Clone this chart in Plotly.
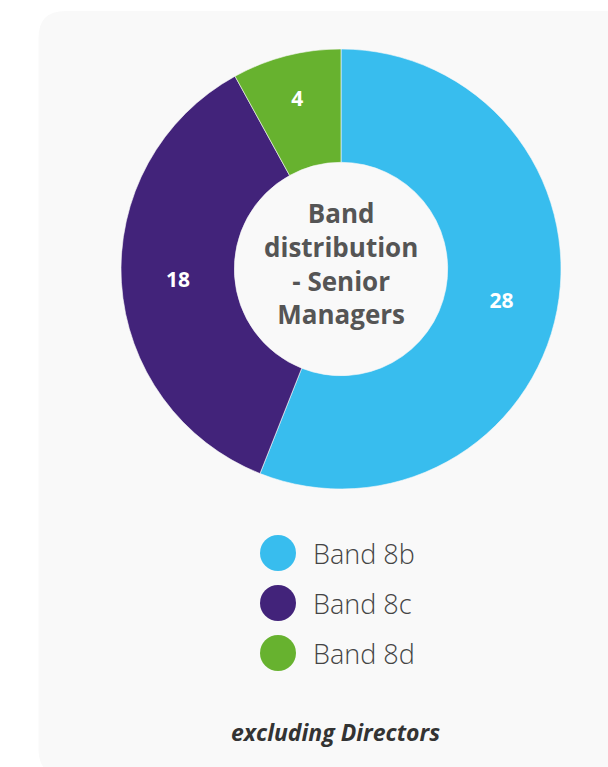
import plotly.graph_objects as go

# Band distribution of senior managers (excluding Directors)
bands = ["Band 8b", "Band 8c", "Band 8d"]
counts = [28, 18, 4]
colors = ["#38bdee", "#42237a", "#67b22f"]
center_title = "Band<br>distribution<br>- Senior<br>Managers"
footnote = "excluding Directors"

W, H = 608, 767


def px_x(x):
    return x / W


def px_y(y):
    return 1 - y / H


fig = go.Figure()

fig.add_trace(go.Pie(
    labels=bands,
    values=counts,
    hole=0.485,
    sort=False,
    direction="clockwise",
    rotation=0,
    marker=dict(colors=colors, line=dict(color="#f9f9f9", width=0.6)),
    textinfo="value",
    textposition="inside",
    insidetextorientation="horizontal",
    textfont=dict(family="Open Sans", size=21, color="#ffffff", weight="bold"),
    hoverinfo="label+value",
    showlegend=False,
    domain=dict(x=[px_x(121), px_x(561)], y=[px_y(489), px_y(49)]),
))

# rounded card behind the chart
left, top, right, bottom, r = 38.5, 11, 650, 776, 27
card = (
    f"M {px_x(left)},{px_y(top + r)} "
    f"Q {px_x(left)},{px_y(top)} {px_x(left + r)},{px_y(top)} "
    f"L {px_x(right)},{px_y(top)} "
    f"L {px_x(right)},{px_y(bottom)} "
    f"L {px_x(left + r)},{px_y(bottom)} "
    f"Q {px_x(left)},{px_y(bottom)} {px_x(left)},{px_y(bottom - r)} Z"
)
shapes = [dict(type="path", xref="paper", yref="paper", path=card,
               fillcolor="#f9f9f9", line=dict(width=0), layer="below")]

annotations = [dict(
    text=center_title, x=px_x(341), y=px_y(263), xref="paper", yref="paper",
    showarrow=False, xanchor="center", yanchor="middle", align="center",
    font=dict(family="Open Sans", size=26, color="#555555", weight="bold"),
)]

# legend with large round markers
leg_x, leg_y0, leg_step, dot_r = 278, 553, 50, 18
for i, (name, col) in enumerate(zip(bands, colors)):
    cy = leg_y0 + i * leg_step
    shapes.append(dict(
        type="circle", xref="paper", yref="paper",
        x0=px_x(leg_x - dot_r), x1=px_x(leg_x + dot_r),
        y0=px_y(cy + dot_r), y1=px_y(cy - dot_r),
        fillcolor=col, line=dict(width=0),
    ))
    annotations.append(dict(
        text=name, x=px_x(311), y=px_y(cy), xref="paper", yref="paper",
        showarrow=False, xanchor="left", yanchor="middle",
        font=dict(family="Open Sans", size=27, color="#444444", weight=300),
    ))

annotations.append(dict(
    text=f"<i>{footnote}</i>", x=px_x(335), y=px_y(732), xref="paper", yref="paper",
    showarrow=False, xanchor="center", yanchor="middle",
    font=dict(family="Open Sans", size=23, color="#333333", weight="bold"),
))

fig.update_layout(
    width=W, height=H,
    margin=dict(l=0, r=0, t=0, b=0),
    paper_bgcolor="#ffffff",
    shapes=shapes,
    annotations=annotations,
)

fig.write_html("out.html", config={"displayModeBar": False})
